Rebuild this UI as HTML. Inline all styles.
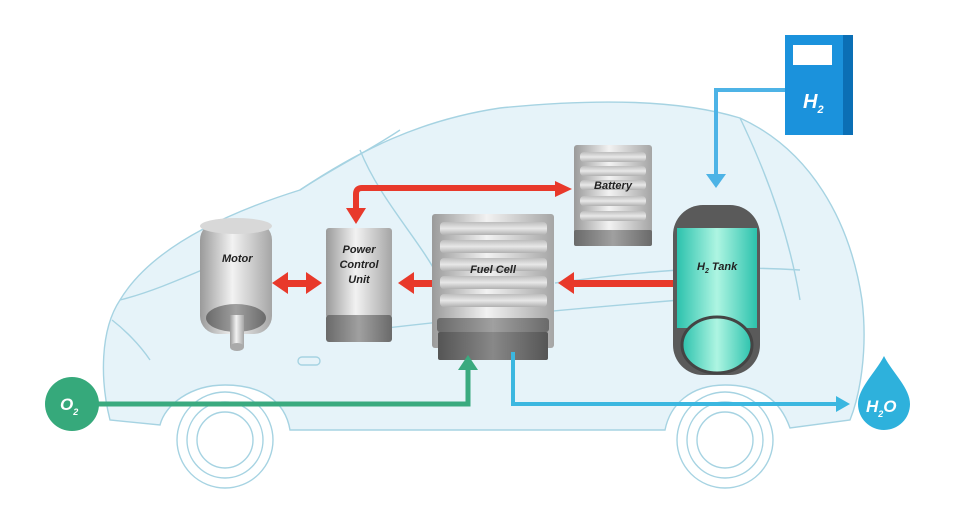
<!DOCTYPE html>
<html><head><meta charset="utf-8"><style>
html,body{margin:0;padding:0;background:#fff;}
svg{display:block;}
text{font-family:"Liberation Sans",sans-serif;font-style:italic;font-weight:bold;}
</style></head><body>
<svg width="955" height="508" viewBox="0 0 955 508" xmlns="http://www.w3.org/2000/svg">
<defs>
<linearGradient id="metal" x1="0" x2="1" y1="0" y2="0">
<stop offset="0" stop-color="#9a9a9a"/><stop offset="0.45" stop-color="#f2f2f2"/><stop offset="1" stop-color="#a5a5a5"/></linearGradient>
<linearGradient id="dark" x1="0" x2="1"><stop offset="0" stop-color="#6a6a6a"/><stop offset="0.5" stop-color="#a0a0a0"/><stop offset="1" stop-color="#6a6a6a"/></linearGradient>
<linearGradient id="darker" x1="0" x2="1"><stop offset="0" stop-color="#555"/><stop offset="0.5" stop-color="#888"/><stop offset="1" stop-color="#555"/></linearGradient>
<linearGradient id="teal" x1="0" x2="1"><stop offset="0" stop-color="#2cc2ad"/><stop offset="0.5" stop-color="#aef5e2"/><stop offset="1" stop-color="#2cc2ad"/></linearGradient>
<linearGradient id="slat" x1="0" x2="0" y1="0" y2="1"><stop offset="0" stop-color="#bdbdbd"/><stop offset="0.5" stop-color="#e8e8e8"/><stop offset="1" stop-color="#b0b0b0"/></linearGradient>
</defs>
<!-- car body -->
<g fill="none" stroke="#a6d3e2" stroke-width="1.4">
<path d="M110 420 C100 380 100 330 120 300 C150 250 220 215 300 190 C360 150 420 120 500 108 C600 98 680 100 740 118 C810 150 850 220 862 300 C868 350 860 395 850 420 L790 428 C780 400 760 385 725 385 C690 385 670 405 665 430 L290 430 C285 400 260 385 225 385 C190 385 165 405 160 425 Z" fill="#e6f3f9"/>
<path d="M300 190 C330 170 370 150 400 130"/>
<path d="M360 150 C380 200 420 240 440 280"/>
<path d="M120 300 C160 290 200 270 250 250"/>
<path d="M555 283 C650 270 720 265 800 270"/>
<path d="M370 330 C450 320 560 310 680 300"/>
<path d="M740 118 C770 180 790 240 800 300"/>
<circle cx="225" cy="440" r="48"/><circle cx="225" cy="440" r="38"/><circle cx="225" cy="440" r="28"/>
<circle cx="725" cy="440" r="48"/><circle cx="725" cy="440" r="38"/><circle cx="725" cy="440" r="28"/>
<path d="M112 320 C125 330 140 345 150 360"/>
<rect x="298" y="357" width="22" height="8" rx="4"/>
</g>
<!-- H2 pump -->
<rect x="785" y="35" width="68" height="100" fill="#1b92dc"/>
<rect x="843" y="35" width="10" height="100" fill="#0b6fb5"/>
<rect x="793" y="45" width="39" height="20" fill="#fff"/>
<text x="803" y="108" fill="#fff" font-size="20">H<tspan font-size="11" dy="5">2</tspan></text>
<path d="M785 90 L716 90 L716 178" stroke="#4db3e6" stroke-width="4" fill="none"/>
<path d="M706 174 L726 174 L716 188 Z" fill="#4db3e6"/>
<!-- red arrows -->
<g fill="#e8392b" stroke="none">
<path d="M562 188 L362 188 Q356 188 356 194 L356 212" stroke="#e8392b" stroke-width="6" fill="none"/>
<path d="M346 208 L366 208 L356 224 Z"/>
<path d="M555 181 L572 189 L555 197 Z"/>
<rect x="284" y="280" width="26" height="7"/>
<path d="M288 272 L272 283 L288 294 Z"/><path d="M306 272 L322 283 L306 294 Z"/>
<rect x="410" y="280" width="22" height="7"/>
<path d="M414 272 L398 283 L414 294 Z"/>
<rect x="570" y="280" width="106" height="7"/>
<path d="M574 272 L558 283 L574 294 Z"/>
</g>
<!-- Motor -->
<rect x="200" y="222" width="72" height="112" rx="18" fill="url(#metal)"/>
<ellipse cx="236" cy="226" rx="36" ry="8" fill="#d8d8d8"/>
<ellipse cx="236" cy="318" rx="30" ry="14" fill="url(#dark)"/>
<rect x="230" y="315" width="14" height="32" fill="url(#metal)"/>
<ellipse cx="237" cy="347" rx="7" ry="4" fill="#aaa"/>
<text x="222" y="262" fill="#222" font-size="11">Motor</text>
<!-- PCU -->
<rect x="326" y="228" width="66" height="90" rx="3" fill="url(#metal)"/>
<rect x="326" y="315" width="66" height="27" rx="3" fill="url(#dark)"/>
<text x="359" y="253" fill="#222" font-size="11" text-anchor="middle">Power</text>
<text x="359" y="268" fill="#222" font-size="11" text-anchor="middle">Control</text>
<text x="359" y="283" fill="#222" font-size="11" text-anchor="middle">Unit</text>
<!-- Fuel cell -->
<rect x="432" y="214" width="122" height="134" rx="3" fill="url(#metal)"/>
<g fill="url(#slat)"><rect x="440" y="222" width="107" height="13" rx="4"/><rect x="440" y="240" width="107" height="13" rx="4"/><rect x="440" y="258" width="107" height="13" rx="4"/><rect x="440" y="276" width="107" height="13" rx="4"/><rect x="440" y="294" width="107" height="13" rx="4"/></g>
<rect x="437" y="318" width="112" height="14" rx="3" fill="url(#dark)"/>
<rect x="438" y="332" width="110" height="28" rx="2" fill="url(#darker)"/>
<text x="493" y="273" fill="#222" font-size="11" text-anchor="middle">Fuel Cell</text>
<!-- Battery -->
<rect x="574" y="145" width="78" height="90" rx="3" fill="url(#metal)"/>
<g fill="url(#slat)"><rect x="580" y="152" width="66" height="10" rx="4"/><rect x="580" y="166" width="66" height="10" rx="4"/><rect x="580" y="180" width="66" height="10" rx="4"/><rect x="580" y="196" width="66" height="10" rx="4"/><rect x="580" y="211" width="66" height="10" rx="4"/></g>
<rect x="574" y="230" width="78" height="16" rx="2" fill="url(#dark)"/>
<text x="613" y="189" fill="#222" font-size="11" text-anchor="middle">Battery</text>
<!-- H2 tank -->
<rect x="673" y="205" width="87" height="170" rx="30" fill="#5a5a5a"/>
<rect x="677" y="228" width="80" height="100" fill="url(#teal)"/>
<ellipse cx="717" cy="345" rx="35" ry="28" fill="url(#teal)" stroke="#444" stroke-width="3"/>
<text x="697" y="270" fill="#222" font-size="11">H<tspan font-size="7" dy="3">2</tspan><tspan dy="-3"> Tank</tspan></text>
<!-- O2 -->
<path d="M98 404 L468 404 L468 368" stroke="#3aaa7f" stroke-width="5" fill="none"/>
<path d="M458 370 L478 370 L468 355 Z" fill="#3aaa7f"/>
<circle cx="72" cy="404" r="27" fill="#36a97b"/>
<text x="60" y="410" fill="#fff" font-size="17">O<tspan font-size="9" dy="5">2</tspan></text>
<!-- H2O -->
<path d="M513 352 L513 404 L838 404" stroke="#3bb7e0" stroke-width="4" fill="none"/>
<path d="M836 396 L850 404 L836 412 Z" fill="#3bb7e0"/>
<path d="M884 356 C892 372 910 388 910 404 A26 26 0 0 1 858 404 C858 388 876 372 884 356 Z" fill="#2eb1dc"/>
<text x="866" y="412" fill="#fff" font-size="17">H<tspan font-size="9" dy="5">2</tspan><tspan dy="-5">O</tspan></text>
</svg>
</body></html>
